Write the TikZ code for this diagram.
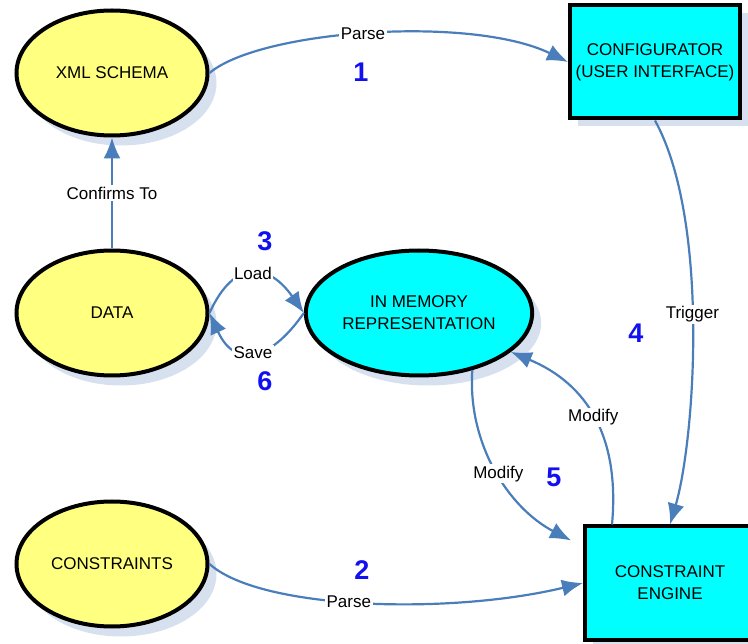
\documentclass[tikz,border=0pt]{standalone}
\usepackage{fontspec}
\setmainfont{Liberation Sans}
\usetikzlibrary{positioning,shapes.geometric,shadows,arrows.meta}
\definecolor{storeyellow}{RGB}{255,255,128}
\definecolor{unitcyan}{RGB}{0,255,255}
\definecolor{flowblue}{RGB}{74,126,187}
\definecolor{shadowblue}{RGB}{214,224,238}
\definecolor{stepblue}{RGB}{16,16,240}

\begin{document}
\begin{tikzpicture}[x=1pt,y=-1pt,on grid,
font=\fontsize{17}{22}\selectfont,
store/.style={ellipse, draw=black, line width=4pt, fill=storeyellow,
  minimum width=191pt, minimum height=125pt, align=center, text=black,
  drop shadow={shadow xshift=9pt, shadow yshift=-10pt, fill=shadowblue, opacity=1}},
unit/.style={rectangle, draw=black, line width=4pt, fill=unitcyan,
  minimum width=170pt, minimum height=113pt, align=center, text=black,
  drop shadow={shadow xshift=8pt, shadow yshift=-8pt, fill=shadowblue, opacity=1}},
flow/.style={draw=flowblue, line width=2.2pt, -{Latex[length=21pt,width=17pt]}},
lbl/.style={fill=white, inner sep=1.5pt, text=black},
num/.style={text=stepblue, font=\fontsize{27}{32}\selectfont\bfseries}
]
\clip (0,0) rectangle (748,644);
\node[store] (xml) at (112,73) {XML SCHEMA};
\node[store] (data) [below=240pt of xml] {DATA};
\node[store] (cons) [below=251pt of data] {CONSTRAINTS};
\node[store, fill=unitcyan] (mem) [right=307pt of data] {IN MEMORY\\REPRESENTATION};
\node[unit] (cfg) [above right=11pt and 543pt of xml] {CONFIGURATOR\\(USER INTERFACE)};
\node[unit] (eng) [below right=19pt and 558pt of cons] {CONSTRAINT\\ENGINE};

\draw[flow] (xml.east) .. controls +(51,-43) and +(-97,-47) .. node[lbl, pos=0.48] {Parse} (cfg.west);
\draw[flow] (cons.east) .. controls +(51,46) and +(-133,32) .. node[lbl, pos=0.46] {Parse} (eng.west);
\draw[flow] (data) -- node[lbl] {Confirms To} (xml);
\draw[flow] (data.east) .. controls +(25,-55) and +(-35,-50) .. node[lbl] {Load} (mem.west);
\draw[flow] (mem.west) .. controls +(-35,50) and +(25,55) .. node[lbl] {Save} (data.east);
\draw[flow] (cfg.south) .. controls +(55,100) and +(25,-85) .. node[lbl, pos=0.47] {Trigger} (eng.north);
\draw[flow] (mem.-47) .. controls +(-5,73) and +(-63,-33) .. node[lbl, pos=0.52] {Modify} ([shift={(-12,16)}]eng.north west);
\draw[flow] ([xshift=-58pt]eng.north) .. controls +(8,-87) and +(77,32) .. node[lbl] {Modify} (mem.-23);

\node[num] (n1) at (361,72) {1};
\node[num] (n2) at (362,570) {2};
\node[num] (n3) at (265,241) {3};
\node[num] (n4) at (636,333) {4};
\node[num] (n5) at (554,477) {5};
\node[num] (n6) at (265,381) {6};
\end{tikzpicture}
\end{document}
